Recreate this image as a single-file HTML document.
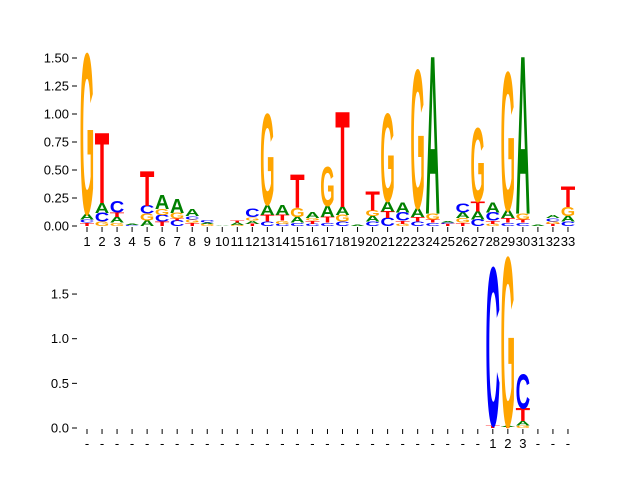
<!DOCTYPE html>
<html><head><meta charset="utf-8"><style>
html,body{margin:0;padding:0;background:#fff;}
svg{display:block;font-family:"Liberation Sans",sans-serif;}
</style></head><body>
<svg id="chart" width="640" height="480" viewBox="0 0 640 480"></svg>
<script>
// Top logo: 33 positions, stacks bottom->top as [letter, height]
const topPositions = [1,2,3,4,5,6,7,8,9,10,11,12,13,14,15,16,17,18,19,20,21,22,23,24,25,26,27,28,29,30,31,32,33];
const topStacks = [
 [["T",0.03],["C",0.03],["A",0.05],["G",1.39]],
 [["G",0.04],["C",0.075],["A",0.09],["T",0.61]],
 [["G",0.03],["A",0.05],["T",0.04],["C",0.1]],
 [["C",0.01],["A",0.01]],
 [["A",0.05],["G",0.06],["C",0.07],["T",0.3]],
 [["T",0.04],["C",0.06],["G",0.05],["A",0.12]],
 [["C",0.05],["T",0.015],["G",0.05],["A",0.12]],
 [["T",0.03],["G",0.03],["C",0.03],["A",0.06]],
 [["G",0.02],["A",0.01],["C",0.02]],
 [["A",0.005]],
 [["G",0.01],["A",0.02],["T",0.015]],
 [["T",0.02],["A",0.03],["G",0.03],["C",0.07]],
 [["C",0.04],["T",0.06],["A",0.09],["G",0.79]],
 [["C",0.02],["G",0.03],["T",0.05],["A",0.09]],
 [["C",0.03],["A",0.05],["G",0.08],["T",0.29]],
 [["C",0.02],["T",0.03],["G",0.02],["A",0.05]],
 [["C",0.03],["T",0.05],["A",0.1],["G",0.34]],
 [["C",0.04],["G",0.06],["A",0.07],["T",0.83]],
 [["A",0.01]],
 [["C",0.04],["A",0.05],["G",0.05],["T",0.17]],
 [["C",0.07],["T",0.06],["A",0.09],["G",0.76]],
 [["G",0.02],["T",0.03],["C",0.07],["A",0.09]],
 [["C",0.04],["T",0.04],["A",0.08],["G",1.2]],
 [["C",0.03],["T",0.03],["G",0.05],["A",1.37]],
 [["T",0.02],["C",0.01],["A",0.01]],
 [["T",0.03],["G",0.04],["A",0.05],["C",0.08]],
 [["C",0.06],["A",0.07],["T",0.09],["G",0.64]],
 [["G",0.02],["T",0.03],["C",0.07],["A",0.09]],
 [["C",0.03],["T",0.04],["A",0.07],["G",1.2]],
 [["C",0.03],["T",0.03],["G",0.05],["A",1.37]],
 [["A",0.01]],
 [["T",0.02],["G",0.02],["C",0.03],["A",0.03]],
 [["C",0.04],["A",0.05],["G",0.08],["T",0.18]]
];
const topTicks = [0,0.25,0.5,0.75,1.0,1.25,1.5];
const topTickLabels = ["0.00","0.25","0.50","0.75","1.00","1.25","1.50"];
// Bottom logo: 33 slots, only slots 28-30 labelled 1,2,3
const bottomLabels = ["-","-","-","-","-","-","-","-","-","-","-","-","-","-","-","-","-","-","-","-","-","-","-","-","-","-","-","1","2","3","-","-","-"];
const bottomStacks = {27:[["T",0.03],["C",1.72]],28:[["T",0.01],["A",0.01],["G",1.84]],29:[["G",0.03],["A",0.05],["T",0.14],["C",0.37]]};
const bottomTicks = [0,0.5,1.0,1.5];
const bottomTickLabels = ["0.0","0.5","1.0","1.5"];

const colors = {A:"#008000",C:"#0000ff",G:"#ffa500",T:"#ff0000"};
const NS="http://www.w3.org/2000/svg";
const svg=document.getElementById('chart');
function mk(tag,attrs,parent){const e=document.createElementNS(NS,tag);for(const k in attrs)e.setAttribute(k,attrs[k]);(parent||svg).appendChild(e);return e;}

function xPos(i){return 87+i*15.03;}
const topY=v=>226-v*112;
const botY=v=>428-v*89.3;
const CAP=67.5, W=14.5;

function drawLetter(g,letter,xc,yb,h){
  if(h<0.3) h=0.3;
  const t=mk('text',{x:0,y:0,'font-size':100,'font-weight':'bold',fill:colors[letter],
    textLength:W,lengthAdjust:'spacingAndGlyphs',
    transform:`translate(${xc-W/2},${yb}) scale(1,${h/CAP})`},g);
  
  
  t.textContent=letter;
}

// Top axes
const gTop=mk('g',{});


topStacks.forEach((stack,i)=>{
  let acc=0;
  stack.forEach(([l,h])=>{const yb=topY(acc);const yt=topY(acc+h);drawLetter(gTop,l,xPos(i),yb,yb-yt);acc+=h;});
});
topTicks.forEach((v,i)=>{
  const y=topY(v);
  const tk=mk('line',{x1:72,x2:77,y1:y,y2:y,stroke:'#000','stroke-width':1});
  
  
  const t=mk('text',{x:69,y:y+4.5,'font-size':13,'text-anchor':'end',fill:'#000'});
  
  
  t.textContent=topTickLabels[i];
});
topPositions.forEach((p,i)=>{
  const x=xPos(i);
  const tk=mk('line',{x1:x,x2:x,y1:227,y2:232,stroke:'#000','stroke-width':1});
  
  
  const t=mk('text',{x:x,y:246,'font-size':13,'text-anchor':'middle',fill:'#000'});
  
  
  t.textContent=String(p);
});

// Bottom axes
const gBot=mk('g',{});


Object.keys(bottomStacks).forEach(k=>{
  let acc=0;
  bottomStacks[k].forEach(([l,h])=>{const yb=botY(acc);const yt=botY(acc+h);drawLetter(gBot,l,xPos(+k),yb,yb-yt);acc+=h;});
});
bottomTicks.forEach((v,i)=>{
  const y=botY(v);
  const tk=mk('line',{x1:72,x2:77,y1:y,y2:y,stroke:'#000','stroke-width':1});
  
  
  const t=mk('text',{x:69,y:y+4.5,'font-size':13,'text-anchor':'end',fill:'#000'});
  
  
  t.textContent=bottomTickLabels[i];
});
bottomLabels.forEach((lab,i)=>{
  const x=xPos(i);
  const tk=mk('line',{x1:x,x2:x,y1:429,y2:434,stroke:'#000','stroke-width':1});
  
  
  const t=mk('text',{x:x,y:448,'font-size':13,'text-anchor':'middle',fill:'#000'});
  
  
  t.textContent=lab;
});
</script>
</body></html>
